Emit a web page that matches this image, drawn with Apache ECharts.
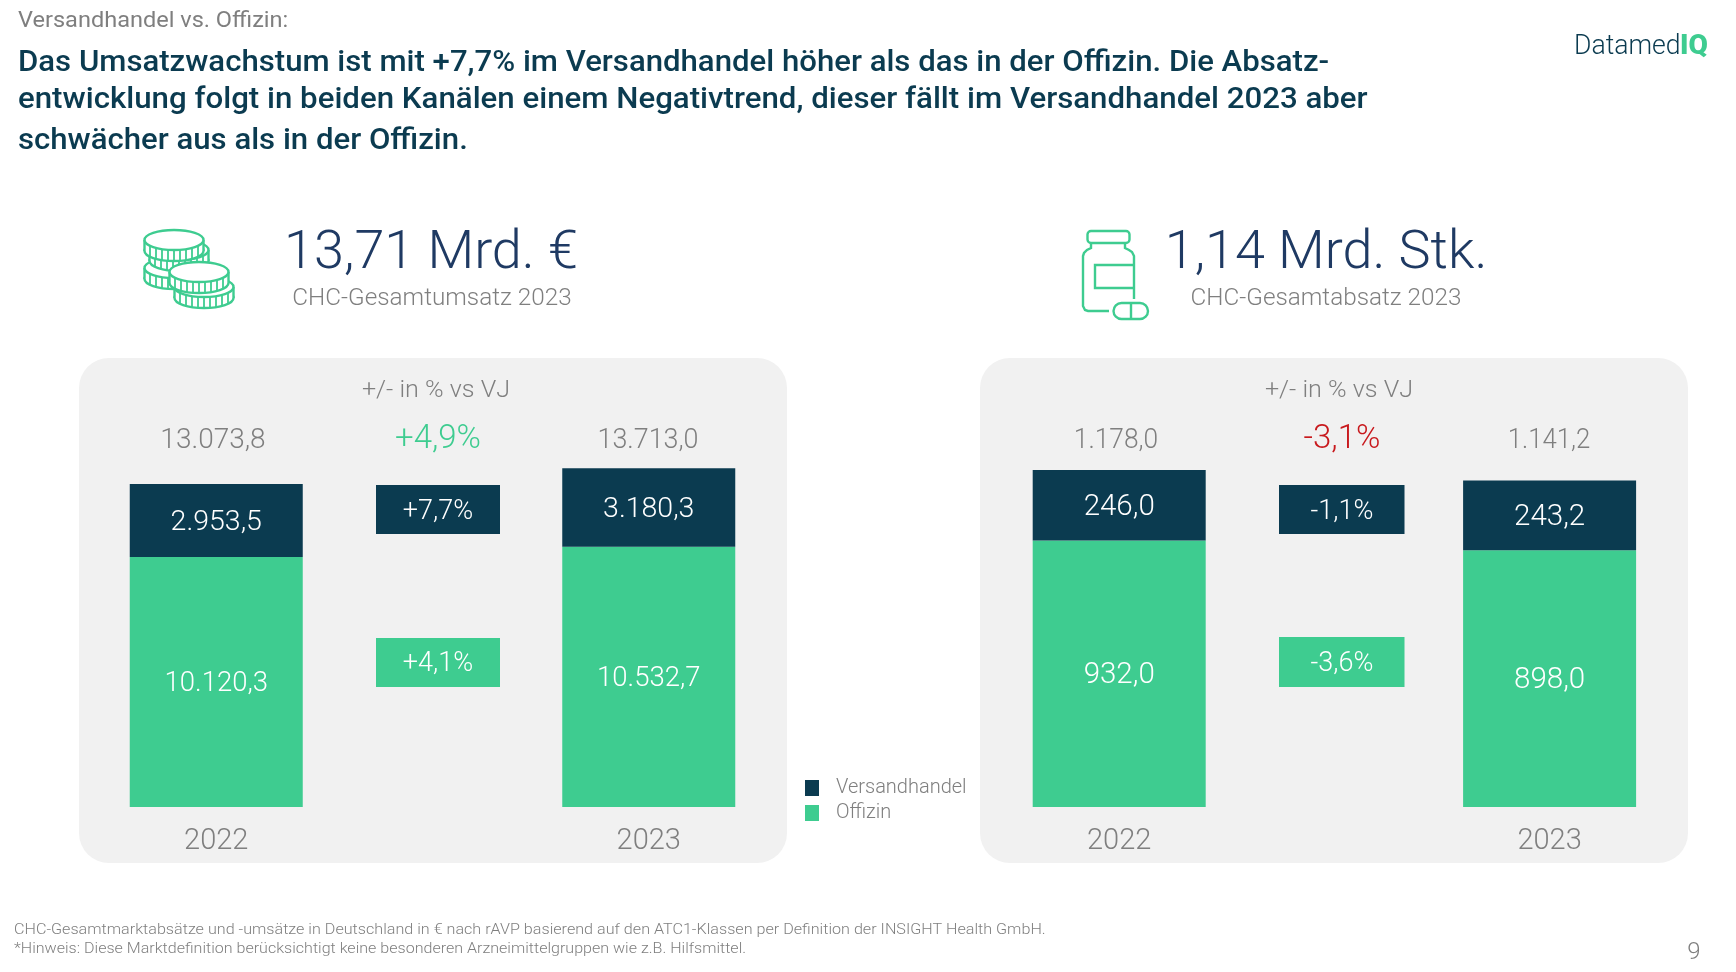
<!DOCTYPE html>
<html><head><meta charset="utf-8">
<style>html,body{margin:0;padding:0;background:#fff}#c{width:1736px;height:972px}</style>
<script src="https://cdn.jsdelivr.net/npm/echarts@6/dist/echarts.min.js"></script>
</head><body><div id="c"></div>
<script>
const years = ['2022', '2023'];
const umsatzOffizin = [10120.3, 10532.7];
const umsatzVersand = [2953.5, 3180.3];
const umsatzTotals = ['13.073,8', '13.713,0'];
const absatzOffizin = [932.0, 898.0];
const absatzVersand = [246.0, 243.2];
const absatzTotals = ['1.178,0', '1.141,2'];
const SANS = 'Roboto';
const NAVY = '#0b3b50', GREEN = '#3ecc90', GREY = '#7f7f7f';
const de = v => { const [a, b] = v.toFixed(1).split('.'); return a.replace(/\B(?=(\d{3})+$)/g, '.') + ',' + b; };

const t = (text, x, y, size, fill, o = {}) => ({ type: 'text', x, y, scaleX: o.sx || 1, z: 5, style: {
  text, fill, font: `${o.w || 300} ${size}px ${o.f || SANS}`, textAlign: o.a || 'center', textVerticalAlign: 'middle' } });
const box = (x, y, w, h, fill) => ({ type: 'rect', z: 2, shape: { x, y, width: w, height: h }, style: { fill } });
const panel = (x, y, w, h) => ({ type: 'rect', z: -10, shape: { x, y, width: w, height: h, r: 30 }, style: { fill: '#f1f1f1' } });

const ic = { stroke: GREEN, fill: 'none', lineWidth: 2.4 };
function coin(cx, cy) {
  const rx = 29.5, ry = 10, h = 11, els = [];
  els.push({ type: 'ellipse', z: 3, shape: { cx, cy: cy + h, rx, ry }, style: { stroke: GREEN, fill: '#fff', lineWidth: 2.4 } });
  els.push({ type: 'rect', z: 3, shape: { x: cx - rx, y: cy, width: 2 * rx, height: h }, style: { fill: '#fff' } });
  els.push({ type: 'line', z: 3, shape: { x1: cx - rx, y1: cy, x2: cx - rx, y2: cy + h }, style: { stroke: GREEN, lineWidth: 2.4 } });
  els.push({ type: 'line', z: 3, shape: { x1: cx + rx, y1: cy, x2: cx + rx, y2: cy + h }, style: { stroke: GREEN, lineWidth: 2.4 } });
  for (let i = -24; i <= 24; i += 6) {
    const yy = cy + ry * Math.sqrt(1 - (i / rx) ** 2);
    els.push({ type: 'line', z: 3, shape: { x1: cx + i, y1: yy, x2: cx + i, y2: yy + h }, style: { stroke: GREEN, lineWidth: 1.8 } });
  }
  els.push({ type: 'ellipse', z: 3, shape: { cx, cy, rx, ry }, style: { stroke: GREEN, fill: '#fff', lineWidth: 2.4 } });
  return els;
}
const bottle = [
  { type: 'rect', z: 3, shape: { x: 1087.5, y: 231, width: 42, height: 12, r: 3.5 }, style: ic },
  { type: 'polyline', z: 3, shape: { points: [[1091, 243], [1091, 248], [1087, 250], [1084, 253], [1083, 256], [1083, 306], [1085, 310], [1088, 311], [1109, 311]] }, style: ic },
  { type: 'polyline', z: 3, shape: { points: [[1125, 243], [1125, 248], [1129, 250], [1132, 252], [1134, 256], [1134, 299]] }, style: ic },
  { type: 'polyline', z: 3, shape: { points: [[1134, 265], [1095, 265], [1095, 288], [1134, 288]] }, style: ic },
  { type: 'rect', z: 3, shape: { x: 1113.5, y: 303, width: 34.5, height: 16, r: 8 }, style: ic },
  { type: 'line', z: 3, shape: { x1: 1131, y1: 303, x2: 1131, y2: 319 }, style: ic }
];

const option = {
  animation: false,
  backgroundColor: '#fff',
  legend: { orient: 'vertical', left: 800, top: 773, itemWidth: 14, itemHeight: 16, itemGap: 5,
    data: ['Versandhandel', 'Offizin'], selectedMode: false, icon: 'rect',
    textStyle: { color: GREY, fontSize: 20, fontFamily: SANS, fontWeight: 300, padding: [0, 0, 0, 12] } },
  grid: [
    { left: 0, width: 865, top: 461.2, height: 345.8, outerBoundsMode: 'none' },
    { left: 904, width: 860.8, top: 463.8, height: 343.2, outerBoundsMode: 'none' }
  ],
  xAxis: [0, 1].map(i => ({ type: 'category', gridIndex: i, data: years,
    axisLine: { show: false }, axisTick: { show: false },
    axisLabel: { color: GREY, fontSize: 29, fontFamily: SANS, fontWeight: 300, margin: 20 } })),
  yAxis: [
    { type: 'value', gridIndex: 0, min: 0, max: 14000, interval: 2000, show: false, splitLine: { show: false } },
    { type: 'value', gridIndex: 1, min: 0, max: 1200, interval: 200, show: false, splitLine: { show: false } }
  ],
  series: [
    [0, 'Offizin', umsatzOffizin, GREEN, 27.5], [0, 'Versandhandel', umsatzVersand, NAVY, 28.5],
    [1, 'Offizin', absatzOffizin, GREEN, 29.5], [1, 'Versandhandel', absatzVersand, NAVY, 29.5]
  ].map(([g, name, data, color, size]) => ({
    type: 'bar', name, data, xAxisIndex: g, yAxisIndex: g, stack: 's' + g, barWidth: 173,
    itemStyle: { color },
    label: { show: true, position: 'inside', offset: [0, 2], color: '#fff', fontSize: size, fontFamily: SANS, fontWeight: 300, formatter: p => de(p.value) }
  })),
  graphic: [
    panel(79, 358, 708, 505), panel(980, 358, 708, 505),
    t('Versandhandel vs. Offizin:', 18, 21.5, 22, GREY, { a: 'left', w: 400, sx: 1.07 }),
    t('Das Umsatzwachstum ist mit +7,7% im Versandhandel höher als das in der Offizin. Die Absatz-', 18, 63.5, 29, NAVY, { a: 'left', w: 500, sx: 1.074 }),
    t('entwicklung folgt in beiden Kanälen einem Negativtrend, dieser fällt im Versandhandel 2023 aber', 18, 100.5, 29, NAVY, { a: 'left', w: 500, sx: 1.077 }),
    t('schwächer aus als in der Offizin.', 18, 141.5, 29, NAVY, { a: 'left', w: 500, sx: 1.074 }),
    t('13,71 Mrd. €', 431, 254, 54, '#1f3a63'),
    t('CHC-Gesamtumsatz 2023', 432, 299, 24.3, GREY),
    t('1,14 Mrd. Stk.', 1326, 254, 54, '#1f3a63'),
    t('CHC-Gesamtabsatz 2023', 1326, 299, 24.3, GREY),
    t('+/- in % vs VJ', 436, 391, 23.5, GREY, { sx: 1.07 }),
    t('+/- in % vs VJ', 1339, 391, 23.5, GREY, { sx: 1.07 }),
    t(umsatzTotals[0], 213, 441, 28, GREY), t(umsatzTotals[1], 648, 441, 28, GREY, { sx: .96 }),
    t(absatzTotals[0], 1116, 441, 28, GREY, { sx: .94 }), t(absatzTotals[1], 1549, 441, 28, GREY, { sx: .92 }),
    t('+4,9%', 438, 440, 33, GREEN), t('-3,1%', 1342, 440, 33, '#c8191d'),
    box(376, 485, 124, 49, NAVY), box(376, 638, 124, 49, GREEN),
    box(1279, 485, 125.5, 49, NAVY), box(1279, 637, 125.5, 50, GREEN),
    t('+7,7%', 438, 512, 27, '#fff'), t('+4,1%', 438, 664, 27, '#fff'),
    t('-1,1%', 1342, 512, 27, '#fff'), t('-3,6%', 1342, 664, 27, '#fff'),
    t('CHC-Gesamtmarktabsätze und -umsätze in Deutschland in € nach rAVP basierend auf den ATC1-Klassen per Definition der INSIGHT Health GmbH.', 14, 930, 15, GREY, { a: 'left', sx: 1.076 }),
    t('*Hinweis: Diese Marktdefinition berücksichtigt keine besonderen Arzneimittelgruppen wie z.B. Hilfsmittel.', 14, 949, 15, GREY, { a: 'left', sx: 1.07 }),
    t('9', 1694, 953, 24, GREY),
    t('Datamed', 1574, 47, 28, NAVY, { a: 'left', sx: .95 }),
    t('IQ', 1680, 47, 28, GREEN, { a: 'left', w: 900 }),
    ...coin(174, 268), ...coin(179, 250), ...coin(174, 240),
    ...coin(204, 287), ...coin(199, 272),
    ...bottle
  ]
};
echarts.init(document.getElementById('c')).setOption(option);
</script></body></html>
